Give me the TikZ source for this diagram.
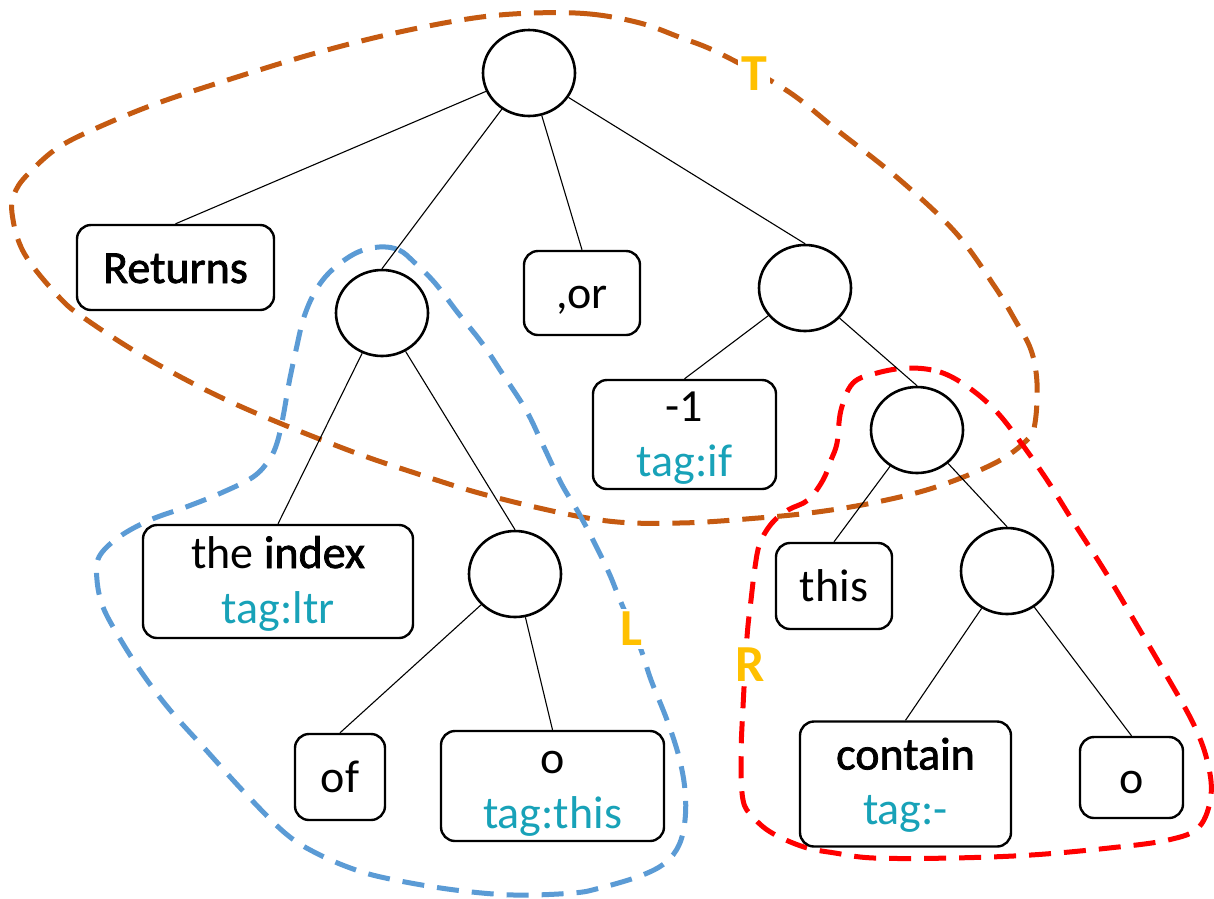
\documentclass[tikz,border=0pt]{standalone}
\usepackage{fontspec}
\setmainfont{Carlito}
\newfontfamily\heavyword[FakeBold=1.6]{Carlito}
\usetikzlibrary{shapes.geometric}
\definecolor{hullT}{HTML}{C55A11}
\definecolor{hullL}{HTML}{5B9BD5}
\definecolor{hullR}{HTML}{FF0000}
\definecolor{hullname}{HTML}{FFC000}
\definecolor{tagcol}{HTML}{18A2B8}
\tikzset{
  inner/.style={ellipse, draw, line width=2.6pt, fill=white, minimum width=92pt, minimum height=86pt, inner sep=0pt},
  leaf/.style={draw, line width=2.4pt, rounded corners=14pt, fill=white, inner sep=0pt,
    font=\fontsize{46}{55}\selectfont, text height=31pt, text depth=0pt},
  word/.style={anchor=base, inner sep=0pt, font=\fontsize{46}{55}\selectfont},
  tagword/.style={word, text=tagcol},
  edge/.style={line width=1.1pt},
  hull/.style={line width=5pt, dash pattern=on 22pt off 13pt},
  hullname/.style={text=hullname, fill=white, inner sep=3pt, font=\fontsize{52}{60}\selectfont\bfseries}
}
\begin{document}
\begin{tikzpicture}[x=1pt, y=-1pt]
\useasboundingbox (0,0) rectangle (1214,898);

% subtree hulls
\draw[hull, hullT] plot[smooth cycle, tension=0.6] coordinates {
  (534,13) (590,14) (640,23) (679,37) (719,53) (786,90) (837,130) (900,180) (956,233)
  (995,287) (1015,320) (1031,350) (1037,383) (1035,423) (1027,440) (995,463)
  (936,487) (877,502) (817,512) (758,518) (679,523) (600,520) (494,497)
  (415,473) (340,447) (233,403) (150,360) (87,320) (59,297) (24,253) (12,213)
  (16,190) (32,170) (59,147) (99,127) (158,103) (237,77) (316,53) (395,33) (474,18)};
\draw[hull, hullL] plot[smooth cycle, tension=0.6] coordinates {
  (379,247) (399,250) (415,263) (435,283) (458,313) (482,343) (502,373)
  (526,410) (542,443) (561,483) (577,510) (593,540) (609,573) (620,600)
  (640,647) (651,680) (667,720) (679,757) (685,790) (685,820) (679,845)
  (665,863) (640,876) (600,888) (573,893) (514,895) (455,890) (395,880)
  (356,870) (316,853) (285,833) (245,793) (206,750) (170,710) (142,673)
  (119,637) (103,607) (97,580) (99,557) (119,537) (150,520) (186,507)
  (221,493) (253,477) (269,460) (277,443) (283,417) (289,383) (296,350)
  (304,317) (316,290) (332,270) (356,253)};
\draw[hull, hullR] plot[smooth cycle, tension=0.6] coordinates {
  (908,368) (940,372) (968,387) (995,410) (1019,440) (1047,480) (1074,523)
  (1106,573) (1138,627) (1165,673) (1193,723) (1207,760) (1211,795)
  (1199,827) (1168,840) (1109,848) (1031,855) (952,858) (874,858) (835,853)
  (804,847) (772,833) (753,817) (743,800) (741,757) (743,707) (747,637)
  (751,600) (755,567) (760,543) (772,523) (788,510) (808,500) (823,480)
  (831,460) (837,443) (841,410) (853,383) (877,373)};
\node[hullname] (tT) at (754,74) {T};
\node[hullname] (tL) at (631,629) {L};
\node[hullname] (tR) at (750,665) {R};

% tree nodes
\node[inner] (root) at (529,73) {};
\node[inner] (nl)   at (382,313) {};
\node[inner] (nr)   at (805,288) {};
\node[inner] (nri)  at (917,430) {};
\node[inner] (nlo)  at (515,574) {};
\node[inner] (nrr)  at (1007,571) {};

\node[leaf, minimum width=197pt, minimum height=85pt] (ret) at (175.5,267.5) {\heavyword Returns};
\node[leaf, minimum width=116pt, minimum height=84pt] (orb) at (582,293) {,or};
\node[leaf, minimum width=116pt, minimum height=86pt] (thisb) at (834,586) {this};
\node[leaf, minimum width=90pt, minimum height=86pt] (of) at (340,777) {of};
\node[leaf, minimum width=103pt, minimum height=81pt] (obox2) at (1131.5,777.5) {o};

\node[leaf, minimum width=183pt, minimum height=109pt] (neg) at (684.5,434.5) {};
\node[word] (neg1) at ([yshift=13pt]neg.center) {-1};
\node[tagword] (neg2) at ([yshift=-42pt]neg.center) {tag:if};

\node[leaf, minimum width=270pt, minimum height=113pt] (idx) at (278,581.5) {};
\node[word] (idx1) at ([yshift=13.5pt]idx.center) {the {\heavyword index}};
\node[tagword] (idx2) at ([yshift=-41.5pt]idx.center) {tag:ltr};

\node[leaf, minimum width=223pt, minimum height=110pt] (obox) at (552.5,786) {};
\node[word] (obox1) at ([yshift=13pt]obox.center) {o};
\node[tagword] (obox2t) at ([yshift=-42pt]obox.center) {tag:this};

\node[leaf, minimum width=211pt, minimum height=125pt] (cont) at (905.5,784) {};
\node[word] (cont1) at ([yshift=14.5pt]cont.center) {{\heavyword contain}};
\node[tagword] (cont2) at ([yshift=-40.5pt]cont.center) {tag:-};

% tree edges
\draw[edge] (root) -- (ret.north);
\draw[edge] (root) -- (nl.north);
\draw[edge] (root) -- (orb.north);
\draw[edge] (root) -- (nr.north);
\draw[edge] (nl) -- (idx.north);
\draw[edge] (nl) -- (nlo.north);
\draw[edge] (nlo) -- (of.north);
\draw[edge] (nlo) -- (obox.north);
\draw[edge] (nr) -- (neg.north);
\draw[edge] (nr) -- (nri.north);
\draw[edge] (nri) -- (thisb.north);
\draw[edge] (nri) -- (nrr.north);
\draw[edge] (nrr) -- (cont.north);
\draw[edge] (nrr) -- (obox2.north);
\end{tikzpicture}
\end{document}
